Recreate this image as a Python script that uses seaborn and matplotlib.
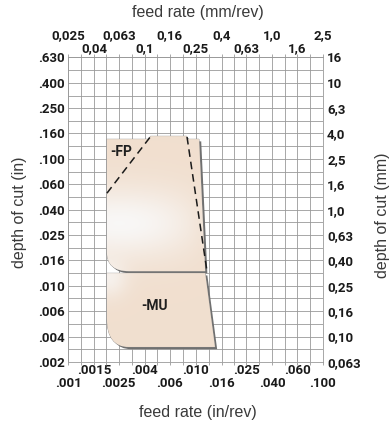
import numpy as np
import matplotlib
matplotlib.use("Agg")
import matplotlib.pyplot as plt
from matplotlib.path import Path
from matplotlib.patches import PathPatch
import matplotlib.patheffects as pe
import seaborn as sns
import pandas as pd
from matplotlib import font_manager

sns.set_theme(style="white")

# ---------------- data ----------------
# feed rate tick positions (in/rev, log scale) and labels
feed_pos = [0.001, 0.0016, 0.0025, 0.004, 0.0063, 0.01, 0.016, 0.025, 0.04, 0.063, 0.1]
feed_in_labels = [".001", ".0015", ".0025", ".004", ".006", ".010", ".016", ".025", ".040", ".060", ".100"]
feed_mm_labels = ["0,025", "0,04", "0,063", "0,1", "0,16", "0,25", "0,4", "0,63", "1,0", "1,6", "2,5"]

# depth of cut tick positions (mm, log scale) and labels
depth_pos = [0.063, 0.1, 0.16, 0.25, 0.4, 0.63, 1.0, 1.6, 2.5, 4.0, 6.3, 10, 16]
depth_in_labels = [".002", ".004", ".006", ".010", ".016", ".025", ".040", ".060", ".100", ".160", ".250", ".400", ".630"]
depth_mm_labels = ["0,063", "0,10", "0,16", "0,25", "0,40", "0,63", "1,0", "1,6", "2,5", "4,0", "6,3", "10", "16"]

# -FP application area boundary (feed in/rev, depth mm)
fp_feed = [0.00202, 0.00425, 0.00445, 0.00850, 0.00870, 0.01065, 0.0119, 0.0030, 0.00202, 0.00202]
fp_depth = [3.60, 3.60, 3.80, 3.80, 3.60, 3.60, 0.328, 0.328, 0.328, 0.463]
# -MU application area boundary
mu_feed = [0.00202, 0.0119, 0.0142, 0.0030, 0.00202, 0.00202]
mu_depth = [0.316, 0.316, 0.0828, 0.0828, 0.0828, 0.140]
# -FP dashed limits
fp_dash1_feed = [0.00202, 0.00440]
fp_dash1_depth = [1.35, 3.73]
fp_dash2_feed = [0.00858, 0.0123]
fp_dash2_depth = [3.75, 0.328]
# region labels
region_names = ["-FP", "-MU"]
region_feed = [0.0026, 0.0048]
region_depth = [2.84, 0.174]

# ---------------- fonts ----------------
tick_fp = font_manager.FontProperties(family=["Roboto", "DejaVu Sans"], weight="bold", size=9.5)
title_font = dict(family=["Liberation Sans", "DejaVu Sans"], size=11.5, color="#3a3a3a")

# ---------------- figure ----------------
fig = plt.figure(figsize=(3.91, 4.25), dpi=100)
ax = fig.add_axes([68 / 391, 63 / 425, 255 / 391, 305 / 425])
ax.set_xscale("log")
ax.set_yscale("log")
ax.set_xlim(feed_pos[0], feed_pos[-1])
ax.set_ylim(depth_pos[0], depth_pos[-1])

grid_c = "#999999"
ax.set_xticks(feed_pos)
ax.set_xticks(np.sqrt(np.array(feed_pos[:-1]) * np.array(feed_pos[1:])), minor=True)
ax.set_yticks(depth_pos)
ax.set_yticks(np.sqrt(np.array(depth_pos[:-1]) * np.array(depth_pos[1:])), minor=True)
ax.tick_params(which="both", labelbottom=False, labelleft=False, length=2.5,
               color=grid_c, width=0.6, direction="out",
               bottom=True, top=True, left=False, right=False)
ax.grid(which="both", color=grid_c, linewidth=0.6)
ax.set_axisbelow(True)
for s in ax.spines.values():
    s.set_color(grid_c)
    s.set_linewidth(0.6)

# shapes
def make_path(xs, ys):
    verts = list(zip(xs, ys)) + [(xs[0], ys[0])]
    n = len(xs)
    codes = [Path.MOVETO] + [Path.LINETO] * (n - 3) + [Path.CURVE3, Path.CURVE3] + [Path.CLOSEPOLY]
    return Path(verts, codes)

peach = np.array([0.945, 0.875, 0.812])
gx, gy = np.meshgrid(np.linspace(0, 1, 300), np.linspace(0, 1, 300))
w1 = 0.97 * np.exp(-((gy - 0.455) / 0.115) ** 2) * np.clip(1 - ((gx - 0.2) / 0.36) ** 2, 0.25, 1)
w2 = 0.65 * np.exp(-((gx - 0.16) / 0.07) ** 2 - ((gy - 0.27) / 0.06) ** 2)
w = np.clip(w1 + w2, 0, 1)[..., None]
grad = peach * (1 - w) + np.array([0.975, 0.972, 0.97]) * w

for xs, ys in [(fp_feed, fp_depth), (mu_feed, mu_depth)]:
    patch = PathPatch(make_path(xs, ys), facecolor=peach, edgecolor="#8a8a8a", linewidth=0.5, zorder=2,
                      path_effects=[pe.SimplePatchShadow(offset=(1.6, -1.6), shadow_rgbFace="#707070", alpha=1.0),
                                    pe.Normal()])
    ax.add_patch(patch)
    im = ax.imshow(grad, extent=[0, 1, 0, 1], transform=ax.transAxes, origin="lower",
                   aspect="auto", zorder=3, interpolation="bilinear")
    im.set_clip_path(patch)

ax.set_xlim(feed_pos[0], feed_pos[-1])
ax.set_ylim(depth_pos[0], depth_pos[-1])

dash = pd.DataFrame({"feed": fp_dash1_feed + fp_dash2_feed,
                     "depth": fp_dash1_depth + fp_dash2_depth,
                     "seg": ["a", "a", "b", "b"]})
for seg, d in dash.groupby("seg"):
    sns.lineplot(data=d, x="feed", y="depth", sort=False, ax=ax, color="#1a1a1a",
                 linewidth=1.1, dashes=False, zorder=4, legend=False)
for line in ax.get_lines():
    line.set_linestyle((0, (5, 3.2)))

for name, fx, dy in zip(region_names, region_feed, region_depth):
    ax.text(fx, dy, name, ha="center", va="center", zorder=5, color="#1f1f1f",
            family=["Roboto", "DejaVu Sans"], weight="bold", size=10)

ax.set_xlabel("")
ax.set_ylabel("")

# ---------------- tick label axes ----------------
def style_labels(labels):
    for t in labels:
        t.set_fontproperties(tick_fp)
        t.set_color("#1a1a1a")

def sec_x(loc, idx, labels, pad):
    s = ax.secondary_xaxis(loc)
    s.set_xticks([feed_pos[i] for i in idx], [labels[i] for i in idx])
    s.xaxis.set_minor_locator(matplotlib.ticker.NullLocator())
    s.tick_params(length=0, pad=pad)
    style_labels(s.get_xticklabels())
    for sp in s.spines.values():
        sp.set_visible(False)
    return s

even = list(range(0, 11, 2))
odd = list(range(1, 11, 2))
sec_x("bottom", even, feed_in_labels, 10.5)
sec_x("bottom", odd, feed_in_labels, 1.5)
sec_x("top", even, feed_mm_labels, 10.5)
sec_x("top", odd, feed_mm_labels, 1.5)

def sec_y(loc, labels, pad):
    s = ax.secondary_yaxis(loc)
    s.set_yticks(depth_pos, labels)
    s.yaxis.set_minor_locator(matplotlib.ticker.NullLocator())
    s.tick_params(length=0, pad=pad)
    style_labels(s.get_yticklabels())
    for sp in s.spines.values():
        sp.set_visible(False)
    return s

sec_y("left", depth_in_labels, 2)
sec_y("right", depth_mm_labels, 3)

fig.text(198 / 391, 1 - 13 / 425, "feed rate (mm/rev)", ha="center", va="center", **title_font)
fig.text(198 / 391, 1 - 413 / 425, "feed rate (in/rev)", ha="center", va="center", **title_font)
fig.text(20 / 391, 1 - 212 / 425, "depth of cut (in)", ha="center", va="center", rotation=90, **title_font)
fig.text(382 / 391, 1 - 215 / 425, "depth of cut (mm)", ha="center", va="center", rotation=90, **title_font)

fig.savefig("out.png", dpi=100)
